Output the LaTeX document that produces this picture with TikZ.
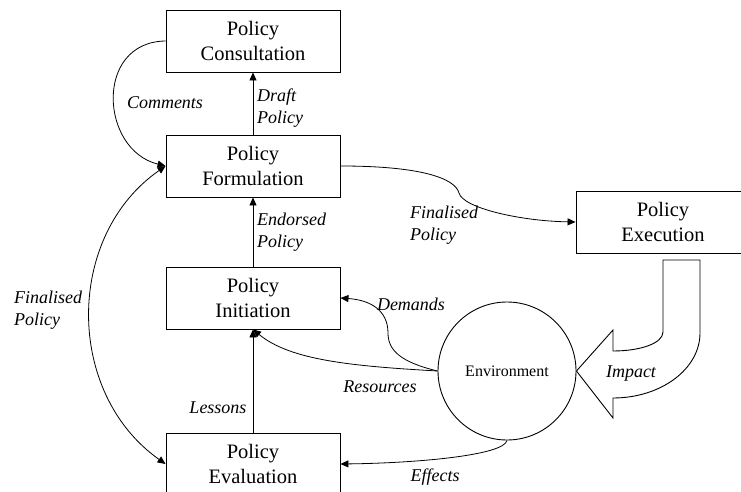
\documentclass[tikz,border=0pt]{standalone}
\usepackage{fontspec}
\setmainfont{Liberation Serif}
\usetikzlibrary{arrows.meta}
\tikzset{
  pbox/.style={draw, line width=0.9pt, minimum width=174pt, minimum height=62pt, inner sep=0pt, align=center, font=\fontsize{20.5}{25}\selectfont},
  lbl/.style={inner sep=0pt, align=left, font=\fontsize{18}{21.5}\selectfont\itshape},
  conn/.style={line width=0.8pt, -{Triangle[length=8pt,width=7pt]}},
  conn2/.style={line width=0.8pt, {Triangle[length=8pt,width=7pt]}-{Triangle[length=8pt,width=7pt]}}
}
\begin{document}
\begin{tikzpicture}[x=1pt,y=-1pt]
\useasboundingbox (0,0) rectangle (741,492);
\node[pbox] (cons) at (253,41) {Policy\\Consultation};
\node[pbox] (form) at (253,166) {Policy\\Formulation};
\node[pbox] (init) at (253,298) {Policy\\Initiation};
\node[pbox] (eval) at (253,464) {Policy\\Evaluation};
\node[pbox] (exec) at (663,222) {Policy\\Execution};
\node[draw, circle, line width=0.9pt, minimum size=138pt, inner sep=0pt, font=\fontsize{16}{19}\selectfont] (env) at (507,371) {Environment};

% Impact block arrow
\draw[line width=0.9pt, fill=white] (663,260) -- (700,260) -- (700,333)
  .. controls (700,369) and (661,398) .. (613,398) -- (613,418) -- (env.east) -- (613,330) -- (613,351)
  .. controls (641,351) and (663,343) .. (663,332) -- cycle;

% connectors
\draw[conn] (form.north) -- (cons.south);
\draw[conn] (init.north) -- (form.south);
\draw[conn] (eval.north) -- (init.south);
\draw[conn] (cons.west) .. controls (94,42) and (100,150) .. (form.west);
\draw[conn2] (form.west) .. controls (65,236) and (65,393) .. (eval.west);
\draw[conn] (form.east) .. controls (420,166) and (455,178) .. (459,193) .. controls (463,208) and (520,221) .. (exec.west);
\draw[conn] (env.west) .. controls (400,362) and (388,350) .. (388,333) .. controls (388,310) and (370,300) .. (init.east);
\draw[conn] (env.west) .. controls (350,366) and (290,360) .. (init.south);
\draw[conn] (env.south) .. controls (504,455) and (420,463) .. (eval.east);

% labels
\node[lbl, anchor=west] (ldraft) at (257,108) {Draft\\Policy};
\node[lbl, anchor=west] (lend) at (257,232) {Endorsed\\Policy};
\node[lbl] (lcom) at (165,103) {Comments};
\node[lbl] (lles) at (218,408) {Lessons};
\node[lbl, anchor=west] (lfin1) at (14,310) {Finalised\\Policy};
\node[lbl, anchor=west] (lfin2) at (410,225) {Finalised\\Policy};
\node[lbl] (ldem) at (411,304) {Demands};
\node[lbl] (lres) at (380,387) {Resources};
\node[lbl] (leff) at (435,477) {Effects};
\node[lbl] (limp) at (631,374) {Impact};
\end{tikzpicture}
\end{document}
